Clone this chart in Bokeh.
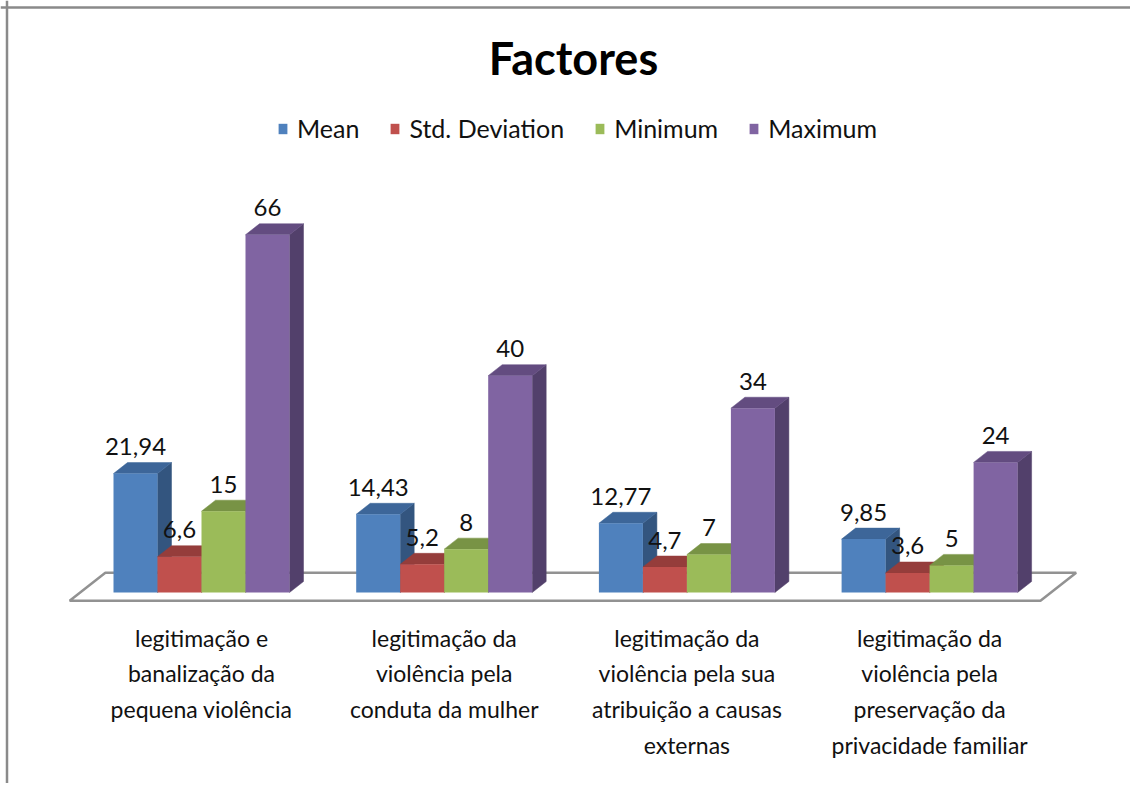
from bokeh.plotting import figure
from bokeh.models import Range1d, Legend, LegendItem, Label, Span, ColumnDataSource
from bokeh.core.properties import value
from bokeh.embed import file_html
from bokeh.resources import INLINE

# ---------------- data ----------------
categories = [
    "legitimação e\nbanalização da\npequena violência",
    "legitimação da\nviolência pela\nconduta da mulher",
    "legitimação da\nviolência pela sua\natribuição a causas\nexternas",
    "legitimação da\nviolência pela\npreservação da\nprivacidade familiar",
]
series_names = ["Mean", "Std. Deviation", "Minimum", "Maximum"]
mean = [21.94, 14.43, 12.77, 9.85]
std_dev = [6.6, 5.2, 4.7, 3.6]
minimum = [15, 8, 7, 5]
maximum = [66, 40, 34, 24]
series_values = [mean, std_dev, minimum, maximum]

# ---------------- styles / layout ----------------
front_colors = ["#4F81BD", "#C0504D", "#9BBB59", "#8064A2"]
top_colors = ["#3D6699", "#953D3B", "#789345", "#634C80"]
side_colors = ["#33557F", "#833534", "#67803B", "#52406B"]
FONT = "Lato"

W, H = 1130, 783
PX_PER_CAT = 242.7
PX_PER_VAL = 5.42
CAT0_PX = 201.0      # canvas x of first category centre
BASE_PX = 592.0      # canvas y (from top) of value 0
BAR_PX = 44.0
DEPTH_X_PX, DEPTH_Y_PX = 14.0, 11.0

x_range = Range1d(-CAT0_PX / PX_PER_CAT, (W - CAT0_PX) / PX_PER_CAT)
y_range = Range1d(-(H - BASE_PX) / PX_PER_VAL, BASE_PX / PX_PER_VAL)


def ux(px):  # horizontal pixel distance -> x units
    return px / PX_PER_CAT


def uy(px):  # vertical pixel distance -> y units
    return px / PX_PER_VAL


bw = ux(BAR_PX)
dxu, dyu = ux(DEPTH_X_PX), uy(DEPTH_Y_PX)
n_cat = len(categories)
n_ser = len(series_names)

p = figure(width=W, height=H, x_range=x_range, y_range=y_range,
           output_backend="svg", toolbar_location=None, title=None,
           x_axis_type=None, y_axis_type=None, min_border=0,
           outline_line_color=None, background_fill_color="white",
           border_fill_color="white")

# chart border (top and left, the rest lies outside the picture)
p.add_layout(Span(location=x_range.start + ux(6.5), dimension="height",
                  line_color="#8A8A8A", line_width=2.5))
p.add_layout(Span(location=y_range.end - uy(7), dimension="width",
                  line_color="#8A8A8A", line_width=2.5))

# floor
tf, tb = -0.75, 1.8
floor_x = [-0.5 + tf * dxu, n_cat - 0.5 + tf * dxu, n_cat - 0.5 + tb * dxu, -0.5 + tb * dxu]
floor_y = [tf * dyu, tf * dyu, tb * dyu, tb * dyu]
p.patch(floor_x, floor_y, fill_color="white", line_color="#929292", line_width=2.5)

legend_items = []
lab_x, lab_y, lab_t = [], [], []
for k, (name, vals) in enumerate(zip(series_names, series_values)):
    lefts = [i + (k - n_ser / 2) * bw for i in range(n_cat)]
    rights = [l + bw for l in lefts]
    side_xs = [[r, r + dxu, r + dxu, r] for r in rights]
    side_ys = [[0, dyu, v + dyu, v] for v in vals]
    top_xs = [[l, r, r + dxu, l + dxu] for l, r in zip(lefts, rights)]
    top_ys = [[v, v, v + dyu, v + dyu] for v in vals]
    p.patches(side_xs, side_ys, fill_color=side_colors[k], line_color=side_colors[k], line_width=0.5)
    p.patches(top_xs, top_ys, fill_color=top_colors[k], line_color=top_colors[k], line_width=0.5)
    src = ColumnDataSource(dict(left=lefts, right=rights, top=vals, bottom=[0] * n_cat))
    fr = p.quad(left="left", right="right", top="top", bottom="bottom", source=src,
                fill_color=front_colors[k], line_color=None)
    legend_items.append(LegendItem(label=name, renderers=[fr]))
    for l, v in zip(lefts, vals):
        lab_x.append(l + bw / 2)
        lab_y.append(v + dyu + uy(16))
        lab_t.append(f"{v:g}".replace(".", ","))

# data labels
p.text(x=lab_x, y=lab_y, text=lab_t, text_font=value(FONT), text_font_size=value("24px"),
       text_align="center", text_baseline="alphabetic", text_color="#111111")

# category labels
p.text(x=list(range(n_cat)), y=[-uy(31)] * n_cat, text=categories,
       text_font=value(FONT), text_font_size=value("23px"), text_line_height=1.28,
       text_align="center", text_baseline="top", text_color="#111111")

# title
p.add_layout(Label(x=x_range.start + ux(573), y=y_range.end - uy(57), text="Factores",
                   text_font=FONT, text_font_size="45px", text_font_style="bold",
                   text_align="center", text_baseline="middle", text_color="#000000"))

legend = Legend(items=legend_items, orientation="horizontal", location=(277, 640),
                glyph_width=11, glyph_height=13, label_standoff=9, spacing=30,
                padding=0, margin=0, border_line_alpha=0, background_fill_alpha=0,
                label_text_font=FONT, label_text_font_size="25px", label_text_color="#111111")
p.add_layout(legend)

open("out.html", "w").write(file_html(p, INLINE))
